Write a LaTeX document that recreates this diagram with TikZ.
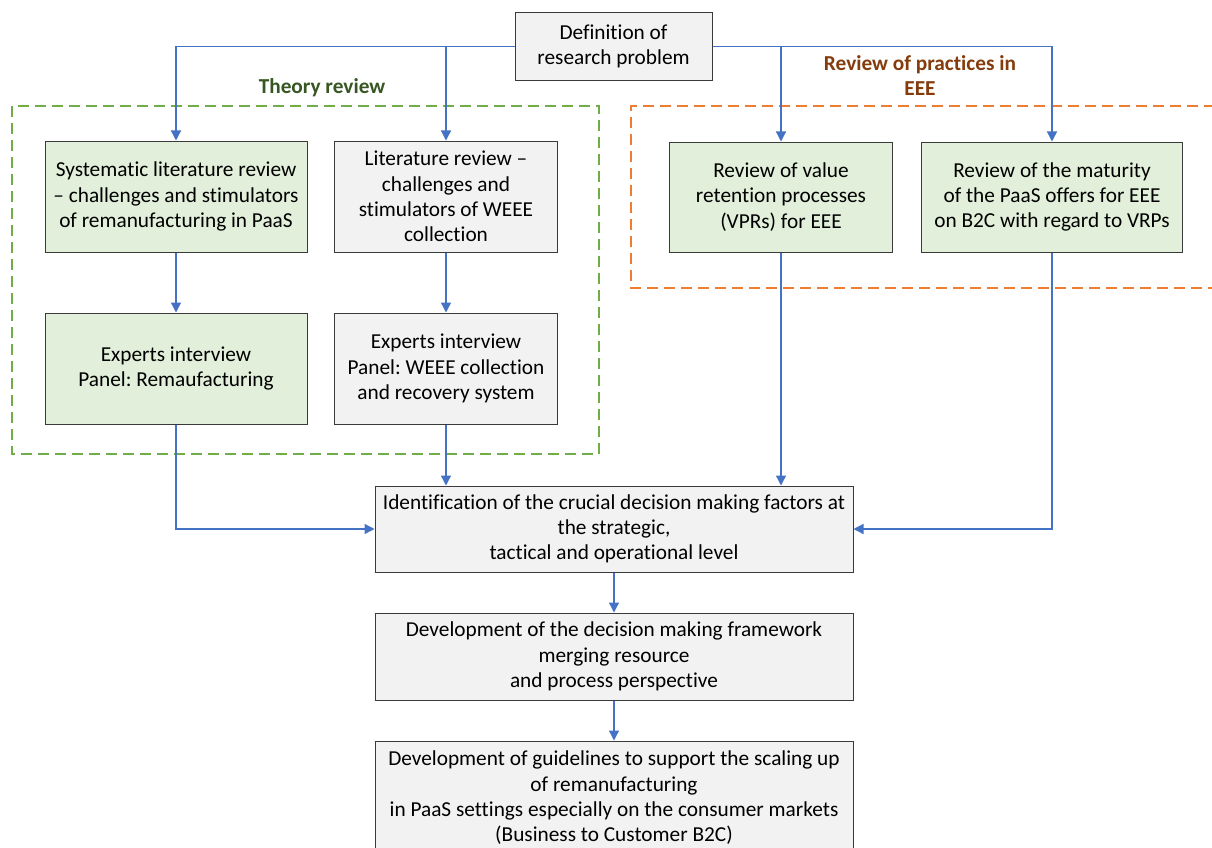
\documentclass[tikz,border=0pt]{standalone}
\usepackage{fontspec}
\setmainfont{Carlito}[Ligatures=NoCommon]
\frenchspacing
\usetikzlibrary{arrows.meta}
\definecolor{arrowblue}{HTML}{4472C4}
\definecolor{greenfill}{HTML}{E2EFDA}
\definecolor{grayfill}{HTML}{F2F2F2}
\definecolor{boxborder}{HTML}{3A3A3A}
\definecolor{greendash}{HTML}{70AD47}
\definecolor{orangedash}{HTML}{ED7D31}
\definecolor{theorytext}{HTML}{375623}
\definecolor{practtext}{HTML}{843C0C}
\tikzset{
  basebox/.style={draw=boxborder, line width=1pt, align=center, inner sep=0pt,
    font=\fontsize{21.3}{25.3}\selectfont\frenchspacing, text=black},
  greenbox/.style={basebox, fill=greenfill},
  graybox/.style={basebox, fill=grayfill},
  conn/.style={draw=arrowblue, line width=1.3pt, -{Triangle[length=10pt,width=10pt]}},
  grouplabel/.style={font=\fontsize{21.3}{25.3}\selectfont\bfseries, align=center, inner sep=0pt},
}
\begin{document}
\begin{tikzpicture}[x=1pt,y=-1pt]
\clip (0,0) rectangle (1212,848);
\fill[white] (0,0) rectangle (1212,848);

% group frames
\draw[greendash, line width=1.4pt, dash pattern=on 11pt off 6pt] (12,106) rectangle (599,454);
\draw[orangedash, line width=1.4pt, dash pattern=on 11pt off 6pt] (1215,106) -- (631,106) -- (631,288) -- (1215,288);
\node[grouplabel, text=theorytext] (theory) at (322,88) {Theory review};
\node[grouplabel, text=practtext] (practices) at (920,75.5) {Review of practices in\\EEE};

% nodes
\node[graybox, minimum width=197pt, minimum height=68pt] (def) at (613.5,46.5) {Definition of\\research problem};
\node[greenbox, minimum width=262pt, minimum height=111pt] (box1) at (176,196.5) {Systematic literature review\\– challenges and stimulators\\of remanufacturing in PaaS};
\node[graybox, minimum width=223pt, minimum height=111pt] (box2) at (446,196.5) {Literature review –\\challenges and\\stimulators of WEEE\\collection};
\node[greenbox, minimum width=223pt, minimum height=110pt] (box3) at (781,197) {Review of value\\retention processes\\(VPRs) for EEE};
\node[greenbox, minimum width=261pt, minimum height=110pt] (box4) at (1052,197) {Review of the maturity\\of the PaaS offers for EEE\\on B2C with regard to VRPs};
\node[greenbox, minimum width=262pt, minimum height=111pt] (exp1) at (176,368.5) {Experts interview\\Panel: Remaufacturing};
\node[graybox, minimum width=223pt, minimum height=111pt] (exp2) at (446,368.5) {Experts interview\\Panel: WEEE collection\\and recovery system};
\node[graybox, minimum width=478pt, minimum height=86pt] (ident) at (614,529) {Identification of the crucial decision making factors at\\the strategic,\\tactical and operational level};
\node[graybox, minimum width=478pt, minimum height=87pt] (frame) at (614,656.5) {Development of the decision making framework\\merging resource\\and process perspective};
\node[graybox, minimum width=478pt, minimum height=114pt] (guide) at (614,798) {Development of guidelines to support the scaling up\\of remanufacturing\\in PaaS settings especially on the consumer markets\\(Business to Customer B2C)};

% connectors
\draw[conn] (def.west) -| (box1.north);
\draw[conn] (def.west) -| (box2.north);
\draw[conn] (def.east) -| (box3.north);
\draw[conn] (def.east) -| (box4.north);
\draw[conn] (box1.south) -- (exp1.north);
\draw[conn] (box2.south) -- (exp2.north);
\draw[conn] (exp1.south) |- (ident.west);
\draw[conn] (exp2.south) -- (exp2.south |- ident.north);
\draw[conn] (box3.south) -- (box3.south |- ident.north);
\draw[conn] (box4.south) |- (ident.east);
\draw[conn] (ident.south) -- (frame.north);
\draw[conn] (frame.south) -- (guide.north);
\end{tikzpicture}
\end{document}
